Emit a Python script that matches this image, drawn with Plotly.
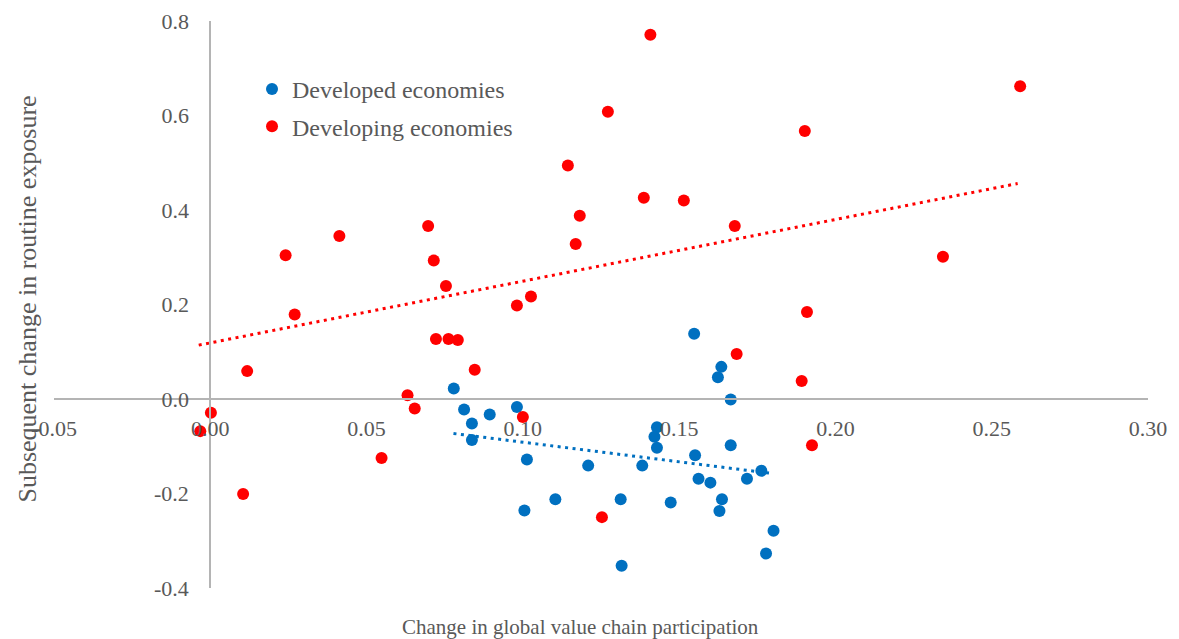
import plotly.graph_objects as go

# Change in GVC participation (x) vs subsequent change in routine exposure (y)
developed_x = [0.0779, 0.0812, 0.0981, 0.0894, 0.0837, 0.0837, 0.1548, 0.1635,
               0.1624, 0.1665, 0.1665, 0.1429, 0.1421, 0.1429, 0.1013, 0.1209,
               0.1382, 0.1551, 0.1562, 0.1600, 0.1763, 0.1717, 0.1637, 0.1629,
               0.1104, 0.1313, 0.1473, 0.1005, 0.1802, 0.1778, 0.1316]
developed_y = [0.022, -0.022, -0.017, -0.033, -0.052, -0.087, 0.138, 0.068,
               0.046, -0.001, -0.098, -0.060, -0.080, -0.103, -0.128, -0.141,
               -0.141, -0.119, -0.169, -0.177, -0.152, -0.169, -0.212, -0.237,
               -0.212, -0.212, -0.219, -0.236, -0.279, -0.327, -0.353]

developing_x = [0.0697, 0.0413, 0.0241, 0.0715, 0.0754, 0.0270, 0.0722, 0.0762,
                0.0792, 0.0118, 0.0846, 0.0631, 0.0654, 0.0002, -0.0032, 0.0548,
                0.0105, 0.1408, 0.1272, 0.1144, 0.1387, 0.1515, 0.1182, 0.1169,
                0.1026, 0.0981, 0.1000, 0.1253, 0.2591, 0.1902, 0.1678, 0.2344,
                0.1909, 0.1684, 0.1892, 0.1925]
developing_y = [0.366, 0.345, 0.304, 0.293, 0.239, 0.179, 0.127, 0.127,
                0.125, 0.059, 0.062, 0.008, -0.020, -0.029, -0.068, -0.125,
                -0.201, 0.771, 0.608, 0.494, 0.426, 0.420, 0.388, 0.328,
                0.217, 0.198, -0.038, -0.250, 0.662, 0.567, 0.366, 0.301,
                0.184, 0.095, 0.038, -0.098]

# Linear trend line end points for each group
developed_trend_x = [0.0778, 0.1790]
developed_trend_y = [-0.073, -0.157]
developing_trend_x = [-0.0037, 0.2583]
developing_trend_y = [0.114, 0.456]

x_ticks = [-0.05, 0.00, 0.05, 0.10, 0.15, 0.20, 0.25, 0.30]
y_ticks = [-0.4, -0.2, 0.0, 0.2, 0.4, 0.6, 0.8]
x_tick_text = [f"{v:.2f}" for v in x_ticks]
y_tick_text = [f"{v:.1f}" for v in y_ticks]

X_RANGE = [-0.05, 0.30]
Y_RANGE = [-0.4, 0.8]

BLUE = "#0070C0"
RED = "#FF0000"
FONT = "Liberation Serif"
TEXT = "#595959"
AXIS = "#B4B4B4"

series = [
    ("Developed economies", developed_x, developed_y,
     developed_trend_x, developed_trend_y, BLUE),
    ("Developing economies", developing_x, developing_y,
     developing_trend_x, developing_trend_y, RED),
]

fig = go.Figure()

for name, xs, ys, _, _, color in series:
    fig.add_trace(go.Scatter(
        x=xs, y=ys, mode="markers", name=name, legendgroup=name,
        marker=dict(color=color, size=12, line=dict(width=0)),
    ))

for name, _, _, tx, ty, color in series:
    fig.add_trace(go.Scatter(
        x=tx, y=ty, mode="lines", showlegend=False, hoverinfo="skip",
        line=dict(color=color, width=3, dash="3px,4.5px"),
    ))

# Axes cross at the origin
x_cross = (0 - Y_RANGE[0]) / (Y_RANGE[1] - Y_RANGE[0])
y_cross = (0 - X_RANGE[0]) / (X_RANGE[1] - X_RANGE[0])

fig.update_layout(
    width=1179, height=639,
    margin=dict(l=54, r=31, t=21, b=51),
    paper_bgcolor="white", plot_bgcolor="white",
    font=dict(family=FONT, color=TEXT),
    xaxis=dict(
        range=X_RANGE, domain=[0, 1], anchor="free", position=x_cross,
        showline=True, linecolor=AXIS, linewidth=2,
        showgrid=False, zeroline=False, ticks="",
        tickvals=x_ticks, ticktext=x_tick_text,
        tickfont=dict(family=FONT, size=22, color=TEXT),
        ticklabelstandoff=10, automargin=False,
    ),
    yaxis=dict(
        range=Y_RANGE, domain=[0, 1], anchor="free", position=y_cross,
        showline=True, linecolor=AXIS, linewidth=2,
        showgrid=False, zeroline=False, ticks="",
        tickvals=y_ticks, ticktext=y_tick_text,
        tickfont=dict(family=FONT, size=22, color=TEXT),
        ticklabelstandoff=16, automargin=False,
    ),
    legend=dict(
        x=0.181, y=0.919, xanchor="left", yanchor="top",
        font=dict(family=FONT, size=24, color=TEXT),
        bgcolor="rgba(0,0,0,0)", traceorder="grouped", tracegroupgap=3,
    ),
    annotations=[
        dict(text="Change in global value chain participation",
             xref="paper", yref="paper", x=0.481, y=-0.069,
             xanchor="center", yanchor="middle", showarrow=False,
             font=dict(family=FONT, size=21, color=TEXT)),
        dict(text="Subsequent change in routine exposure",
             xref="paper", yref="paper", x=-0.024, y=0.510,
             xanchor="center", yanchor="middle", textangle=-90, showarrow=False,
             font=dict(family=FONT, size=26, color=TEXT)),
    ],
)

fig.write_html("out.html")
